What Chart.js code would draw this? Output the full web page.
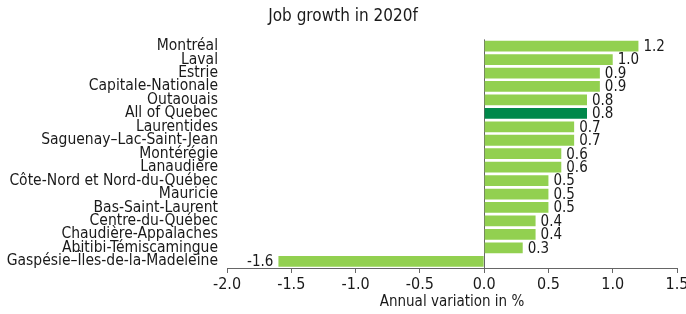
<!DOCTYPE html>
<html>
<head>
<meta charset="utf-8">
<script src="https://cdn.jsdelivr.net/npm/chart.js@4.4.1/dist/chart.umd.min.js"></script>
<style>
  html, body { margin: 0; padding: 0; background: #fff; }
  #wrap { width: 686px; height: 314px; }
</style>
</head>
<body>
<div id="wrap"><canvas id="chart"></canvas></div>
<script>
const regions = [
  "Montréal", "Laval", "Estrie", "Capitale-Nationale", "Outaouais",
  "All of Quebec", "Laurentides", "Saguenay–Lac-Saint-Jean", "Montérégie",
  "Lanaudière", "Côte-Nord et Nord-du-Québec", "Mauricie", "Bas-Saint-Laurent",
  "Centre-du-Québec", "Chaudière-Appalaches", "Abitibi-Témiscamingue",
  "Gaspésie–Îles-de-la-Madeleine"
];
const growth = [1.2, 1.0, 0.9, 0.9, 0.8, 0.8, 0.7, 0.7, 0.6, 0.6, 0.5, 0.5, 0.5, 0.4, 0.4, 0.3, -1.6];
const highlight = "All of Quebec";

const FONT = "'Liberation Sans Narrow', 'DejaVu Sans Condensed', sans-serif";
const LIGHT = "#92d050";
const DARK = "#00884a";
const AXIS = "#666666";

// draws the value next to the end of each bar
const valueLabels = {
  id: "valueLabels",
  afterDatasetsDraw(chart) {
    const ctx = chart.ctx;
    const meta = chart.getDatasetMeta(0);
    ctx.save();
    ctx.font = "15px " + FONT;
    ctx.fillStyle = "#1a1a1a";
    ctx.textBaseline = "middle";
    meta.data.forEach((bar, i) => {
      const v = growth[i];
      if (v >= 0) {
        ctx.textAlign = "left";
        ctx.fillText(v.toFixed(1), bar.x + 5, bar.y + 1);
      } else {
        ctx.textAlign = "right";
        ctx.fillText(v.toFixed(1), bar.x - 5, bar.y + 1);
      }
    });
    ctx.restore();
  }
};

new Chart(document.getElementById("chart"), {
  type: "bar",
  data: {
    labels: regions,
    datasets: [{
      data: growth,
      backgroundColor: regions.map(r => r === highlight ? DARK : LIGHT),
      barPercentage: 0.8,
      categoryPercentage: 1
    }]
  },
  options: {
    indexAxis: "y",
    responsive: true,
    maintainAspectRatio: false,
    animation: false,
    layout: { padding: { top: 0, right: 0, bottom: 4, left: 0 } },
    plugins: {
      legend: { display: false },
      tooltip: { enabled: false },
      title: {
        display: true,
        text: "Job growth in 2020f",
        color: "#1a1a1a",
        font: { family: FONT, size: 17, weight: "normal" },
        padding: { top: 6, bottom: 13 }
      }
    },
    scales: {
      x: {
        min: -2,
        max: 1.5,
        ticks: {
          stepSize: 0.5,
          color: "#1a1a1a",
          font: { family: FONT, size: 16, lineHeight: 1 },
          padding: 4,
          callback: v => v.toFixed(1)
        },
        grid: {
          color: c => (c.tick && c.tick.value === 0 ? AXIS : "transparent"),
          tickColor: AXIS,
          tickLength: 5,
          lineWidth: 1
        },
        border: { display: true, color: AXIS, width: 1 },
        title: {
          display: true,
          text: "Annual variation in %",
          color: "#1a1a1a",
          font: { family: FONT, size: 15, lineHeight: 1 },
          padding: { top: 0, bottom: 0 }
        },
        afterFit(scale) {
          scale.paddingRight = 9;
          scale.height = 42;
        }
      },
      y: {
        grid: { display: false, drawTicks: false },
        border: { display: false },
        ticks: {
          color: "#1a1a1a",
          font: { family: FONT, size: 15.5 },
          padding: 9,
          autoSkip: false
        },
        afterFit(scale) { scale.width = 227; }
      }
    }
  },
  plugins: [valueLabels]
});
</script>
</body>
</html>
